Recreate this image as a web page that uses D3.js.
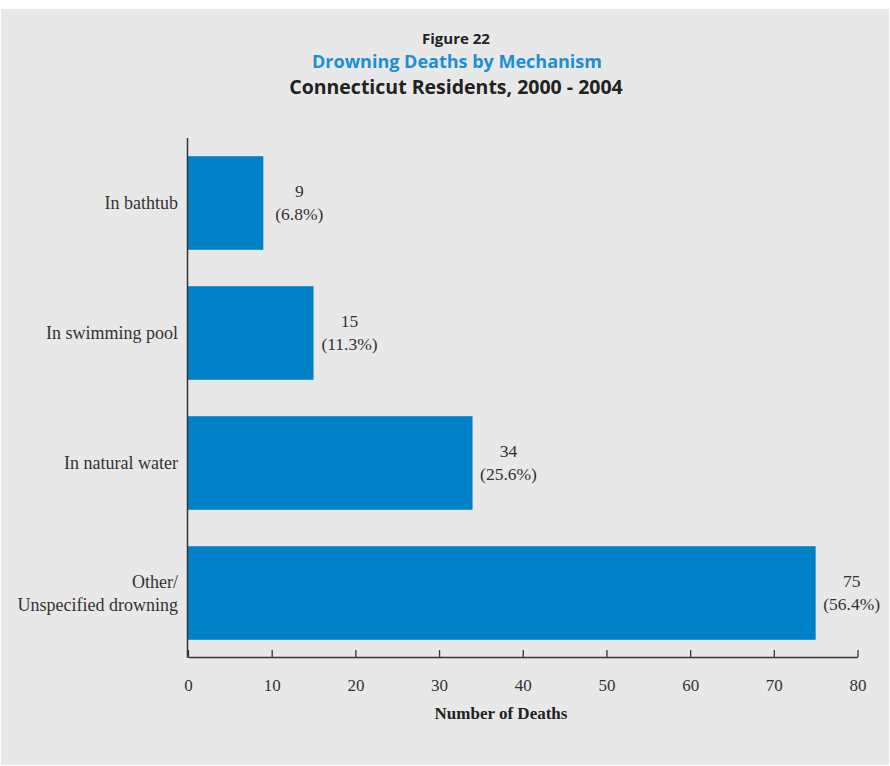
<!DOCTYPE html>
<html><head><meta charset="utf-8">
<script src="https://cdn.jsdelivr.net/npm/d3@7"></script>
<style>body{margin:0;background:#fff}svg{display:block}</style>
</head><body>
<svg id="c" width="890" height="766"></svg>
<script>
const categories = [["In bathtub"], ["In swimming pool"], ["In natural water"], ["Other/", "Unspecified drowning"]];
const values = [9, 15, 34, 75];
const percents = ["(6.8%)", "(11.3%)", "(25.6%)", "(56.4%)"];
const xTicks = [0, 10, 20, 30, 40, 50, 60, 70, 80];

const svg = d3.select("#c");
svg.append("rect").attr("x",1).attr("y",9).attr("width",888).attr("height",756).attr("fill","#e8e8e8");

const serif = "'Liberation Serif', 'Times New Roman', serif";
const sans = "'Open Sans', 'DejaVu Sans', sans-serif";

svg.append("text").attr("x",456).attr("y",44).attr("text-anchor","middle")
  .attr("font-family",sans).attr("font-weight","bold").attr("font-size",15).attr("fill","#222")
  .text("Figure 22");
svg.append("text").attr("x",457).attr("y",68).attr("text-anchor","middle")
  .attr("font-family",sans).attr("font-weight","bold").attr("font-size",18).attr("fill","#1b8fd5")
  .text("Drowning Deaths by Mechanism");
svg.append("text").attr("x",456).attr("y",94).attr("text-anchor","middle")
  .attr("font-family",sans).attr("font-weight","bold").attr("font-size",19.5).attr("fill","#222")
  .text("Connecticut Residents, 2000 - 2004");

const x = d3.scaleLinear().domain([0,80]).range([188,857.5]);
const y = d3.scaleBand().domain(d3.range(categories.length)).range([138,658]).paddingInner(0.28).paddingOuter(0.14);

svg.selectAll("rect.bar").data(values).join("rect").attr("class","bar")
  .attr("x",x(0)).attr("y",(d,i)=>y(i)).attr("width",d=>x(d)-x(0)).attr("height",y.bandwidth())
  .attr("fill","#0080c6");

const ax = svg.append("g").attr("transform","translate(0,657)")
  .call(d3.axisBottom(x).tickValues(xTicks).tickSizeInner(-7).tickSizeOuter(0).tickPadding(22));
ax.select(".domain").attr("stroke","#333").attr("stroke-width",1.5);
ax.selectAll(".tick line").attr("stroke","#333").attr("stroke-width",1.3);
ax.selectAll(".tick text").attr("font-family",serif).attr("font-size",17).attr("fill","#333");

svg.append("line").attr("x1",x(0)-0.5).attr("x2",x(0)-0.5).attr("y1",138).attr("y2",657.7)
  .attr("stroke","#333").attr("stroke-width",1.5);

svg.append("text").attr("x",501).attr("y",719).attr("text-anchor","middle")
  .attr("font-family",serif).attr("font-weight","bold").attr("font-size",17).attr("fill","#222")
  .text("Number of Deaths");

categories.forEach((lines,i)=>{
  const cy = y(i)+y.bandwidth()/2;
  const t = svg.append("text").attr("text-anchor","end").attr("font-family",serif).attr("font-size",18).attr("fill","#333");
  const n = lines.length;
  lines.forEach((l,j)=>{
    t.append("tspan").attr("x",178).attr("y",cy + 6 + (j-(n-1)/2)*23).text(l);
  });
  const vx = x(values[i]) + 36;
  svg.append("text").attr("x",vx).attr("y",cy-6).attr("text-anchor","middle")
    .attr("font-family",serif).attr("font-size",17.5).attr("fill","#333").text(values[i]);
  svg.append("text").attr("x",vx).attr("y",cy+17).attr("text-anchor","middle")
    .attr("font-family",serif).attr("font-size",17.5).attr("fill","#333").text(percents[i]);
});
</script>
</body></html>
